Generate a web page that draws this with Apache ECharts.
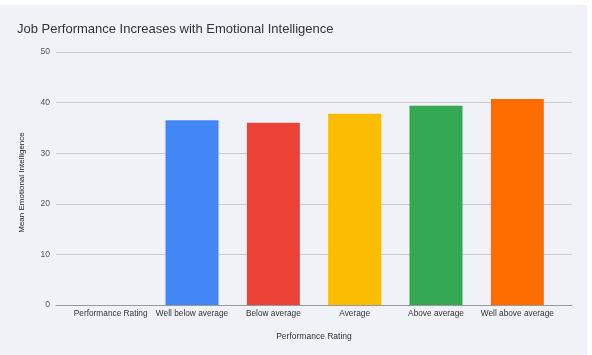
<!DOCTYPE html>
<html>
<head>
<meta charset="utf-8">
<script src="https://cdn.jsdelivr.net/npm/echarts@6/dist/echarts.min.js"></script>
<style>
html,body{margin:0;padding:0;background:#ffffff;}
#c{width:592px;height:355px;}
</style>
</head>
<body>
<div id="c"></div>
<script>
const titleText = 'Job Performance Increases with Emotional Intelligence';
const categories = ['Performance Rating', 'Well below average', 'Below average', 'Average', 'Above average', 'Well above average'];
const values = [null, 36.5, 36.0, 37.8, 39.4, 40.7];
const barColors = ['#4285f4', '#4285f4', '#ea4335', '#fbbc04', '#34a853', '#ff6d01'];
const yTicks = {min: 0, max: 50, interval: 10};
const xAxisName = 'Performance Rating';
const yAxisName = 'Mean Emotional Intelligence';

const chart = echarts.init(document.getElementById('c'), null, {renderer: 'canvas'});
const font = 'Arial, "Liberation Sans", sans-serif';
chart.setOption({
  backgroundColor: '#ffffff',
  animation: false,
  graphic: [{type: 'rect', z: -10, silent: true, shape: {x: 0, y: 5, width: 587, height: 350}, style: {fill: '#f1f2f8'}}],
  title: {
    text: titleText, left: 12, top: 18,
    textStyle: {fontFamily: font, fontSize: 13, fontWeight: 'normal', color: '#333333'}
  },
  grid: [
    {left: 56, right: 20, top: 52, bottom: 50, containLabel: false},
    {left: 70, right: 34, top: 52, bottom: 50, containLabel: false}
  ],
  xAxis: [
    {
      gridIndex: 0, type: 'category', data: [''],
      axisLine: {show: true, lineStyle: {color: '#999999', width: 1}},
      axisTick: {show: false}, axisLabel: {show: false},
      name: xAxisName, nameLocation: 'middle', nameGap: 27,
      nameTextStyle: {fontFamily: font, fontSize: 8.5, color: '#333333'}
    },
    {
      gridIndex: 1, type: 'category', data: categories,
      axisLine: {show: false}, axisTick: {show: false},
      axisLabel: {fontFamily: font, fontSize: 8.3, color: '#333333', margin: 5, interval: 0}
    }
  ],
  yAxis: [
    {
      gridIndex: 0, type: 'value', min: yTicks.min, max: yTicks.max, interval: yTicks.interval,
      axisLine: {show: false}, axisTick: {show: false},
      axisLabel: {fontFamily: font, fontSize: 8.5, color: '#555555', margin: 6},
      splitLine: {show: true, lineStyle: {color: '#cccccc', width: 1}},
      name: yAxisName, nameLocation: 'middle', nameGap: 30, nameRotate: 90,
      nameTextStyle: {fontFamily: font, fontSize: 8, color: '#222222', padding: [0, 0, 0, -8]}
    },
    {
      gridIndex: 1, type: 'value', min: yTicks.min, max: yTicks.max, interval: yTicks.interval,
      show: false, splitLine: {show: false}
    }
  ],
  series: [{
    type: 'bar', xAxisIndex: 1, yAxisIndex: 1, barWidth: 53,
    data: values.map((v, i) => ({value: v, itemStyle: {color: barColors[i]}}))
  }]
});
</script>
</body>
</html>
